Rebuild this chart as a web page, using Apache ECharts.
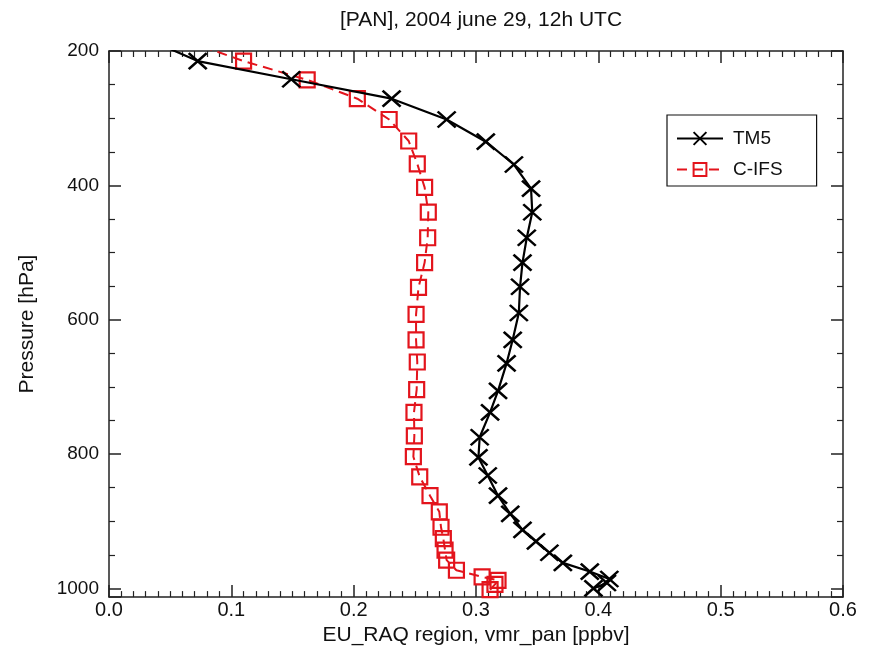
<!DOCTYPE html>
<html>
<head>
<meta charset="utf-8">
<script src="https://cdn.jsdelivr.net/npm/echarts@6/dist/echarts.min.js"></script>
<style>
html,body{margin:0;padding:0;background:#fff;}
#chart{width:876px;height:651px;}
</style>
</head>
<body>
<div id="chart"></div>
<script>
// ---- data ----
var titleText = "[PAN], 2004 june 29, 12h UTC";
var xAxisName = "EU_RAQ region, vmr_pan [ppbv]";
var yAxisName = "Pressure [hPa]";
var seriesNames = ["TM5", "C-IFS"];

var tm5Pressure = [185, 215, 242, 271, 302, 335, 369, 405, 440, 478, 515, 551, 590, 630, 665, 706, 738, 775, 805, 832, 862, 889, 913, 930, 947, 962, 975, 986, 992, 1000];
var tm5Values   = [0.035, 0.0725, 0.149, 0.231, 0.276, 0.308, 0.331, 0.345, 0.346, 0.3415, 0.338, 0.336, 0.335, 0.330, 0.325, 0.318, 0.3115, 0.303, 0.302, 0.3096, 0.318, 0.328, 0.338, 0.349, 0.360, 0.371, 0.393, 0.409, 0.407, 0.396];

var cifsPressure = [185, 215, 243, 271, 302, 334, 368, 403, 440, 478, 515, 552, 592, 630, 663, 704, 738, 773, 804, 834, 862, 886, 909, 926, 943, 958, 973, 983, 988, 994, 1002];
var cifsValues   = [0.064, 0.110, 0.162, 0.203, 0.229, 0.245, 0.252, 0.258, 0.261, 0.2605, 0.258, 0.253, 0.251, 0.251, 0.252, 0.2515, 0.2493, 0.2496, 0.2488, 0.254, 0.2624, 0.270, 0.2714, 0.2733, 0.2747, 0.276, 0.284, 0.305, 0.318, 0.3155, 0.3115];

var xMin = 0, xMax = 0.6, xInterval = 0.1;
var yMin = 200, yMax = 1013, yInterval = 200;

function pairs(xs, ys) {
  var out = [];
  for (var i = 0; i < xs.length; i++) out.push([xs[i], ys[i]]);
  return out;
}

var FONT = '"Liberation Sans", Arial, sans-serif';
var AX = '#222';
var RED = '#e3141c';

var chart = echarts.init(document.getElementById('chart'));
chart.setOption({
  animation: false,
  backgroundColor: '#fff',
  title: {
    text: titleText,
    left: 476, top: 5, textAlign: 'center',
    textStyle: {fontFamily: FONT, fontSize: 21, fontWeight: 'normal', color: '#111'}
  },
  legend: {
    left: 667, top: 115, orient: 'vertical',
    padding: [14, 34, 7, 9],
    itemWidth: 46, itemHeight: 16, itemGap: 12,
    borderColor: '#111', borderWidth: 1.2, borderRadius: 0,
    backgroundColor: '#fff',
    textStyle: {fontFamily: FONT, fontSize: 19, color: '#111', padding: [0, 0, 0, 5]},
    data: seriesNames
  },
  grid: {left: 109, top: 51, width: 734, height: 550, containLabel: false},
  xAxis: [{
    type: 'value', min: xMin, max: xMax, interval: xInterval, position: 'bottom',
    name: xAxisName, nameLocation: 'middle', nameGap: 24,
    nameTextStyle: {fontFamily: FONT, fontSize: 21, color: '#111'},
    axisLine: {show: true, onZero: false, lineStyle: {color: AX, width: 1.5}},
    axisTick: {show: true, inside: true, length: 12, lineStyle: {color: AX, width: 1.5}},
    minorTick: {show: true, splitNumber: 10, length: 6, lineStyle: {color: AX, width: 1.2}},
    axisLabel: {fontFamily: FONT, fontSize: 20, color: '#111', margin: 3, formatter: function (v) { return v.toFixed(1); }},
    splitLine: {show: false}
  }, {
    type: 'value', min: xMin, max: xMax, interval: xInterval, position: 'top',
    axisLine: {show: true, onZero: false, lineStyle: {color: AX, width: 1.5}},
    axisTick: {show: true, inside: true, length: 12, lineStyle: {color: AX, width: 1.5}},
    minorTick: {show: true, splitNumber: 10, length: 6, lineStyle: {color: AX, width: 1.2}},
    axisLabel: {show: false},
    splitLine: {show: false}
  }],
  yAxis: [{
    type: 'value', inverse: true, min: yMin, max: yMax, interval: yInterval, position: 'left',
    name: yAxisName, nameLocation: 'middle', nameGap: 71, nameRotate: 90,
    nameTextStyle: {fontFamily: FONT, fontSize: 21, color: '#111'},
    axisLine: {show: true, onZero: false, lineStyle: {color: AX, width: 1.5}},
    axisTick: {show: true, inside: true, length: 12, lineStyle: {color: AX, width: 1.5}},
    minorTick: {show: true, splitNumber: 4, length: 6, lineStyle: {color: AX, width: 1.2}},
    axisLabel: {fontFamily: FONT, fontSize: 19, color: '#111', margin: 10,
      formatter: function (v) { return (v % 200 === 0) ? String(v) : ''; }},
    splitLine: {show: false}
  }, {
    type: 'value', inverse: true, min: yMin, max: yMax, interval: yInterval, position: 'right',
    axisLine: {show: true, onZero: false, lineStyle: {color: AX, width: 1.5}},
    axisTick: {show: true, inside: true, length: 12, lineStyle: {color: AX, width: 1.5}},
    minorTick: {show: true, splitNumber: 4, length: 6, lineStyle: {color: AX, width: 1.2}},
    axisLabel: {show: false},
    splitLine: {show: false}
  }],
  series: [{
    name: seriesNames[0], type: 'line', xAxisIndex: 0, yAxisIndex: 0,
    data: pairs(tm5Values, tm5Pressure),
    clip: true,
    symbol: 'path://M0,0L10,10M10,0L0,10', symbolSize: [18, 16],
    lineStyle: {color: '#000', width: 2.2},
    itemStyle: {color: 'rgba(0,0,0,0)', borderColor: '#000', borderWidth: 2.5},
    z: 3
  }, {
    name: seriesNames[1], type: 'line', xAxisIndex: 0, yAxisIndex: 0,
    data: pairs(cifsValues, cifsPressure),
    clip: true,
    symbol: 'rect', symbolSize: 15,
    lineStyle: {color: RED, width: 2, type: [10, 6]},
    itemStyle: {color: 'rgba(0,0,0,0)', borderColor: RED, borderWidth: 2.2},
    z: 2
  }]
});
</script>
</body>
</html>
